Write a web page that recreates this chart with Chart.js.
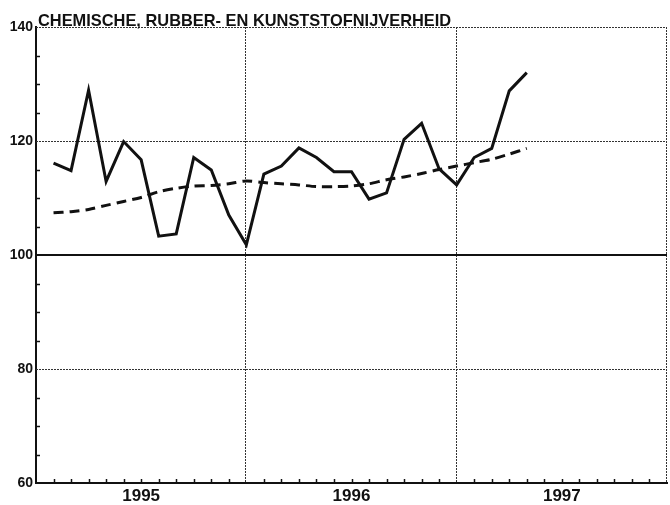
<!DOCTYPE html>
<html>
<head>
<meta charset="utf-8">
<script src="https://cdn.jsdelivr.net/npm/chart.js@4.4.0/dist/chart.umd.min.js"></script>
<style>
  html, body { margin: 0; padding: 0; background: #fff; }
  #wrap { width: 670px; height: 505px; }
</style>
</head>
<body>
<div id="wrap"><canvas id="chart" width="670" height="505"></canvas></div>
<script>
// Months from Jan 1995 to Apr 1997
const months = [
  "jan 95", "feb 95", "mrt 95", "apr 95", "mei 95", "jun 95",
  "jul 95", "aug 95", "sep 95", "okt 95", "nov 95", "dec 95",
  "jan 96", "feb 96", "mrt 96", "apr 96", "mei 96", "jun 96",
  "jul 96", "aug 96", "sep 96", "okt 96", "nov 96", "dec 96",
  "jan 97", "feb 97", "mrt 97", "apr 97"
];

// Production index (solid) and trend (dashed)
const production = [
  116.1, 114.8, 128.9, 112.9, 119.9, 116.7, 103.3, 103.7, 117.1, 114.9, 107.0, 101.8,
  114.2, 115.6, 118.8, 117.1, 114.6, 114.6, 109.8, 110.9, 120.3, 123.1, 115.1, 112.3,
  117.1, 118.7, 128.8, 132.0
];
const trend = [
  107.4, 107.6, 108.0, 108.7, 109.4, 110.1, 111.1, 111.7, 112.1, 112.2, 112.5, 113.0,
  112.7, 112.5, 112.3, 112.0, 112.0, 112.1, 112.5, 113.2, 113.7, 114.3, 115.0, 115.6,
  116.2, 116.8, 117.7, 118.7
];

const years = ["1995", "1996", "1997"];
const yLabels = [60, 80, 100, 120, 140];
const title = "CHEMISCHE, RUBBER- EN KUNSTSTOFNIJVERHEID";

const toPoints = arr => arr.map((v, i) => ({ x: i + 1, y: v }));

// grid lines, small tick marks and title
const decorations = {
  id: "decorations",
  beforeDatasetsDraw(chart) {
    const { ctx, chartArea: a, scales: { x, y } } = chart;
    ctx.save();
    // dotted grid
    ctx.strokeStyle = "#333";
    ctx.lineWidth = 1;
    ctx.setLineDash([2, 1]);
    [80, 120, 140].forEach(v => {
      const py = Math.round(y.getPixelForValue(v)) + 0.5;
      ctx.beginPath(); ctx.moveTo(a.left, py); ctx.lineTo(a.right, py); ctx.stroke();
    });
    [12, 24, 36].forEach(v => {
      const px = Math.round(x.getPixelForValue(v)) - 0.5;
      ctx.beginPath(); ctx.moveTo(px, a.top); ctx.lineTo(px, a.bottom); ctx.stroke();
    });
    ctx.setLineDash([]);
    // base line at 100
    ctx.strokeStyle = "#111";
    ctx.lineWidth = 2;
    const p100 = y.getPixelForValue(100);
    ctx.beginPath(); ctx.moveTo(a.left, p100); ctx.lineTo(a.right, p100); ctx.stroke();
    // minor ticks
    ctx.lineWidth = 1.5;
    for (let v = 65; v < 140; v += 5) {
      if (v % 20 === 0) continue;
      const py = Math.round(y.getPixelForValue(v)) + 0.5;
      ctx.beginPath(); ctx.moveTo(a.left, py); ctx.lineTo(a.left + 4, py); ctx.stroke();
    }
    for (let m = 1; m < 36; m++) {
      if (m % 12 === 0) continue;
      const px = Math.round(x.getPixelForValue(m)) + 0.5;
      ctx.beginPath(); ctx.moveTo(px, a.bottom); ctx.lineTo(px, a.bottom - 4); ctx.stroke();
    }
    ctx.restore();
  },
  afterDraw(chart) {
    const { ctx, chartArea: a } = chart;
    ctx.save();
    ctx.fillStyle = "#111";
    ctx.font = "bold 16.4px 'Liberation Sans', Arial, sans-serif";
    ctx.textBaseline = "alphabetic";
    ctx.fillText(title, a.left + 2, a.top - 1);
    ctx.restore();
  }
};

new Chart(document.getElementById("chart"), {
  type: "line",
  data: {
    labels: months,
    datasets: [
      {
        label: "productie",
        data: toPoints(production),
        borderColor: "#111",
        borderWidth: 3,
        pointRadius: 0,
        tension: 0,
        fill: false
      },
      {
        label: "trend",
        data: toPoints(trend),
        borderColor: "#111",
        borderWidth: 3,
        borderDash: [10, 6],
        pointRadius: 0,
        tension: 0.3,
        fill: false
      }
    ]
  },
  options: {
    responsive: false,
    animation: false,
    layout: { padding: { top: 27, right: 3, left: 0, bottom: 0 } },
    plugins: {
      legend: { display: false },
      tooltip: { enabled: false }
    },
    scales: {
      x: {
        type: "linear",
        min: 0,
        max: 36,
        afterFit: s => { s.height = 22; },
        grid: { display: false, drawTicks: false },
        border: { display: true, color: "#111", width: 2 },
        ticks: {
          stepSize: 1,
          autoSkip: false,
          maxRotation: 0,
          padding: 3,
          color: "#111",
          font: { family: "'Liberation Sans', Arial, sans-serif", size: 17, weight: "bold" },
          callback: v => (v % 12 === 6 ? years[(v - 6) / 12] : "")
        }
      },
      y: {
        min: 60,
        max: 140,
        afterFit: s => { s.width = 36; },
        grid: { display: false, drawTicks: false },
        border: { display: true, color: "#111", width: 2 },
        ticks: {
          stepSize: 20,
          autoSkip: false,
          padding: 3,
          color: "#111",
          font: { family: "'Liberation Sans', Arial, sans-serif", size: 14, weight: "bold" },
          callback: v => (yLabels.includes(v) ? String(v) : "")
        }
      }
    }
  },
  plugins: [decorations]
});
</script>
</body>
</html>
